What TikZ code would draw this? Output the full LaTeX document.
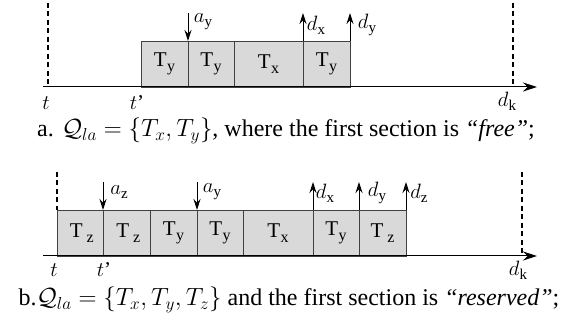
\documentclass[tikz,border=0pt]{standalone}
\usepackage{amsmath}
\usepackage{fontspec}
\setmainfont{Liberation Serif}
\usetikzlibrary{arrows.meta}
\newcommand\lowsub[1]{\kern0.5pt\raisebox{-4.5pt}{\fontsize{16}{16}\selectfont #1}}
\newcommand\mlowsub[1]{\raisebox{-4pt}{\fontsize{15}{15}\selectfont #1}}
\begin{document}
\begin{tikzpicture}[x=1pt,y=-1pt,
  slot/.style={draw=black!75,fill=black!15,line width=0.9pt,minimum height=46pt,inner sep=0pt,outer sep=0pt,anchor=south west,font=\fontsize{21}{21}\selectfont},
  axisline/.style={line width=1pt,-{Stealth[length=14pt,width=9pt]}},
  evarrow/.style={line width=1pt,-{Stealth[length=11pt,width=7pt]}},
  border/.style={line width=1.3pt,dash pattern=on 5pt off 3.5pt},
  lbl/.style={font=\fontsize{21}{21}\selectfont,inner sep=0pt},
  captext/.style={font=\fontsize{24}{24}\selectfont,inner sep=0pt}]
\useasboundingbox (0,0) rectangle (571,323);
% ---------- diagram a ----------
\coordinate (a0) at (43,87);
\coordinate (a1) at (537,87);
\node[slot,minimum width=47pt] (b1) at (141,87) {T\lowsub{y}};
\node[slot,minimum width=46pt] (b2) at (188,87) {T\lowsub{y}};
\node[slot,minimum width=69pt] (b3) at (234,87) {T\lowsub{x}};
\node[slot,minimum width=47pt] (b4) at (303,87) {T\lowsub{y}};
\draw[axisline] (a0) -- (a1);
\coordinate (ta) at (48,3); \coordinate (tb) at (48,87);
\draw[border] (ta) -- (tb);
\coordinate (ka) at (513,3); \coordinate (kb) at (513,87);
\draw[border] (ka) -- (kb);
\coordinate (ay0) at (188,13);
\draw[evarrow] (ay0) -- (b2.north west);
\node[lbl] (ayl) at (203,22) {$a$\mlowsub{y}};
\coordinate (dx0) at (303,13);
\draw[evarrow] (b4.north west) -- (dx0);
\node[lbl] (dxl) at (316,25) {$d$\mlowsub{x}};
\coordinate (dy0) at (350,13);
\draw[evarrow] (b4.north east) -- (dy0);
\node[lbl] (dyl) at (367,25) {$d$\mlowsub{y}};
\node[lbl] (tl) at (46,103) {$t$};
\node[lbl] (tpl) at (137,103) {$t$’};
\node[lbl] (dkl) at (507,101) {$d$\mlowsub{k}};
\node[captext] (capa) at (286,131) {a. $\mathcal{Q}_{la}=\{T_x,T_y\}$, where the first section is \textit{``free''};};
% ---------- diagram b ----------
\coordinate (c0) at (43,256);
\coordinate (c1) at (537,256);
\node[slot,minimum width=46pt] (e1) at (57,256) {\,T\,\lowsub{z}};
\node[slot,minimum width=47pt] (e2) at (103,256) {\,T\,\lowsub{z}};
\node[slot,minimum width=47pt] (e3) at (150,256) {T\lowsub{y}};
\node[slot,minimum width=46pt] (e4) at (197,256) {T\lowsub{y}};
\node[slot,minimum width=70pt] (e5) at (243,256) {T\lowsub{x}};
\node[slot,minimum width=46pt] (e6) at (313,256) {T\lowsub{y}};
\node[slot,minimum width=47pt] (e7) at (359,256) {T\,\lowsub{z}};
\draw[axisline] (c0) -- (c1);
\coordinate (ua) at (57,172);
\draw[border] (ua) -- (e1.north west);
\coordinate (va) at (522,172); \coordinate (vb) at (522,256);
\draw[border] (va) -- (vb);
\coordinate (az0) at (103,182);
\draw[evarrow] (az0) -- (e2.north west);
\node[lbl] (azl) at (119,192) {$a$\mlowsub{z}};
\coordinate (ay1) at (197,182);
\draw[evarrow] (ay1) -- (e4.north west);
\node[lbl] (ayl2) at (212,192) {$a$\mlowsub{y}};
\coordinate (dx1) at (313,182);
\draw[evarrow] (e6.north west) -- (dx1);
\node[lbl] (dxl2) at (325,193) {$d$\mlowsub{x}};
\coordinate (dy1) at (359,182);
\draw[evarrow] (e7.north west) -- (dy1);
\node[lbl] (dyl2) at (377,193) {$d$\mlowsub{y}};
\coordinate (dz1) at (406,182);
\draw[evarrow] (e7.north east) -- (dz1);
\node[lbl] (dzl2) at (419,193) {$d$\mlowsub{z}};
\node[lbl] (tl2) at (54,270) {$t$};
\node[lbl] (tpl2) at (104,270) {$t$’};
\node[lbl] (dkl2) at (518,270) {$d$\mlowsub{k}};
\node[captext] (capb) at (289,300) {b.$\mathcal{Q}_{la}=\{T_x,T_y,T_z\}$ and the first section is \textit{``reserved''};};
\end{tikzpicture}
\end{document}
